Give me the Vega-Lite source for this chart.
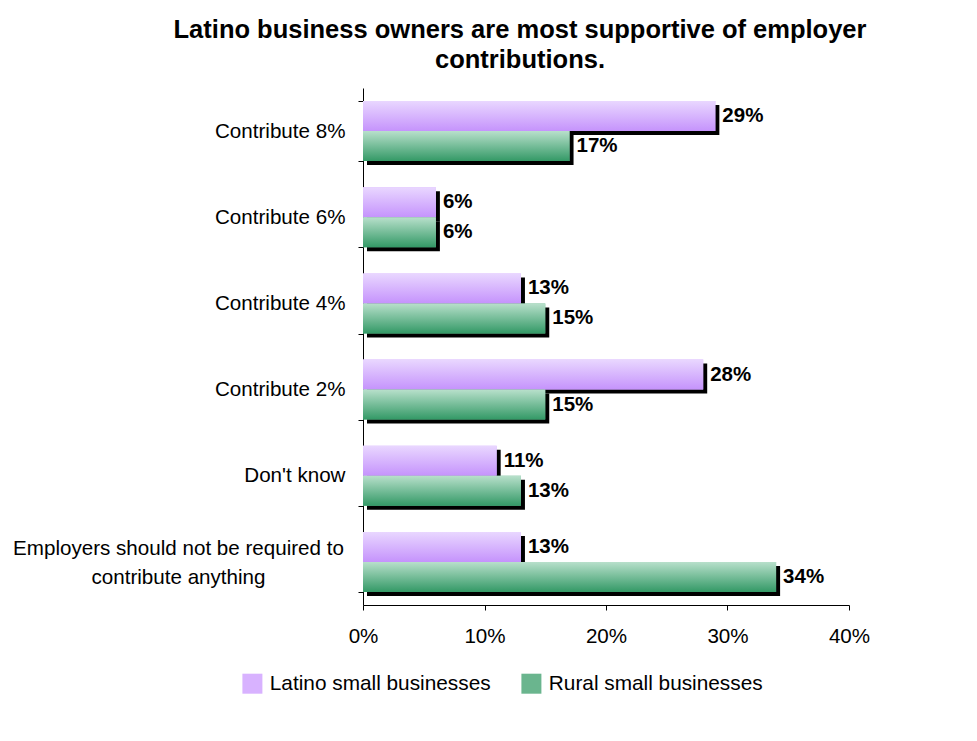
{
  "$schema": "https://vega.github.io/schema/vega-lite/v6.json",
  "width": 486,
  "height": 517,
  "autosize": {"type": "none"},
  "padding": {"left": 363, "top": 88, "right": 128, "bottom": 136},
  "background": "white",
  "config": {
    "font": "Liberation Sans",
    "view": {"stroke": null},
    "axis": {"labelFont": "Liberation Sans", "labelColor": "black", "domainColor": "black", "tickColor": "black", "grid": false, "title": null}
  },
  "title": {
    "text": ["Latino business owners are most supportive of employer", "contributions."],
    "fontSize": 25.5,
    "fontWeight": "bold",
    "font": "Liberation Sans",
    "color": "black",
    "anchor": "middle",
    "dx": -86,
    "lineHeight": 30,
    "offset": 5
  },
  "data": {
    "values": [
      {"cat": "Contribute 8%", "series": "Latino small businesses", "v": 0.29},
      {"cat": "Contribute 8%", "series": "Rural small businesses", "v": 0.17},
      {"cat": "Contribute 6%", "series": "Latino small businesses", "v": 0.06},
      {"cat": "Contribute 6%", "series": "Rural small businesses", "v": 0.06},
      {"cat": "Contribute 4%", "series": "Latino small businesses", "v": 0.13},
      {"cat": "Contribute 4%", "series": "Rural small businesses", "v": 0.15},
      {"cat": "Contribute 2%", "series": "Latino small businesses", "v": 0.28},
      {"cat": "Contribute 2%", "series": "Rural small businesses", "v": 0.15},
      {"cat": "Don't know ", "series": "Latino small businesses", "v": 0.11},
      {"cat": "Don't know ", "series": "Rural small businesses", "v": 0.13},
      {"cat": "Employers should not be required to contribute anything", "series": "Latino small businesses", "v": 0.13},
      {"cat": "Employers should not be required to contribute anything", "series": "Rural small businesses", "v": 0.34}
    ]
  },
  "encoding": {
    "y": {
      "field": "cat",
      "type": "nominal",
      "sort": null,
      "scale": {"paddingInner": 0.3, "paddingOuter": 0.15},
      "axis": {
        "labelFontSize": 20.6,
        "tickSize": 5,
        "tickBand": "extent",
        "labelPadding": {"condition": {"test": "datum.value === 'Employers should not be required to contribute anything'", "value": 180}, "value": 13},
        "labelAlign": {"condition": {"test": "datum.value === 'Employers should not be required to contribute anything'", "value": "center"}, "value": "right"},
        "labelOffset": {"condition": {"test": "datum.value === 'Employers should not be required to contribute anything'", "value": -13}, "value": 0},
        "labelExpr": "datum.value === 'Employers should not be required to contribute anything' ? ['Employers should not be required to', 'contribute anything'] : datum.value",
        "labelLineHeight": 29,
        "labelLimit": 400
      }
    },
    "x": {
      "field": "v",
      "type": "quantitative",
      "scale": {"domain": [0, 0.4]},
      "axis": {"format": ".0%", "values": [0, 0.1, 0.2, 0.3, 0.4], "labelFontSize": 20.6, "tickSize": 5, "labelPadding": 16, "labelFlush": false}
    }
  },
  "layer": [
    {
      "transform": [{"filter": "datum.series === 'Latino small businesses'"}],
      "mark": {"type": "bar", "color": "black", "height": 30, "yOffset": -11, "xOffset": 4, "x2Offset": 4}
    },
    {
      "transform": [{"filter": "datum.series === 'Rural small businesses'"}],
      "mark": {"type": "bar", "color": "black", "height": 30, "yOffset": 19, "xOffset": 4, "x2Offset": 4}
    },
    {
      "transform": [{"filter": "datum.series === 'Latino small businesses'"}],
      "mark": {"type": "bar", "height": 30, "yOffset": -15},
      "encoding": {
        "color": {
          "field": "series",
          "type": "nominal",
          "scale": {"domain": ["Latino small businesses", "Rural small businesses"], "range": ["#d8b2ff", "#6ab58e"]},
          "legend": {
            "title": null,
            "orient": "none",
            "direction": "horizontal",
            "legendX": -121,
            "legendY": 585,
            "symbolType": "square",
            "symbolSize": 400,
            "symbolStrokeWidth": 0,
            "symbolOpacity": 1,
            "labelFontSize": 20.8,
            "labelFont": "Liberation Sans",
            "labelColor": "black",
            "labelOffset": 7,
            "columnPadding": 30,
            "labelLimit": 400
          }
        }
      }
    },
    {
      "transform": [{"filter": "datum.series === 'Rural small businesses'"}],
      "mark": {"type": "bar", "height": 30, "yOffset": 15},
      "encoding": {"color": {"field": "series", "type": "nominal"}}
    },
    {
      "transform": [{"filter": "datum.series === 'Latino small businesses'"}],
      "mark": {"type": "bar", "height": 30, "yOffset": -15, "fill": {"gradient": "linear", "x1": 0, "y1": 0, "x2": 0, "y2": 1, "stops": [{"offset": 0, "color": "#e9d7ff"}, {"offset": 1, "color": "#c593fc"}]}}
    },
    {
      "transform": [{"filter": "datum.series === 'Rural small businesses'"}],
      "mark": {"type": "bar", "height": 30, "yOffset": 15, "fill": {"gradient": "linear", "x1": 0, "y1": 0, "x2": 0, "y2": 1, "stops": [{"offset": 0, "color": "#b8e0cb"}, {"offset": 1, "color": "#339966"}]}}
    },
    {
      "transform": [{"filter": "datum.series === 'Latino small businesses'"}],
      "mark": {"type": "text", "align": "left", "baseline": "middle", "dx": 7, "yOffset": -15, "fontSize": 20.5, "fontWeight": "bold", "color": "black", "font": "Liberation Sans"},
      "encoding": {"text": {"field": "v", "type": "quantitative", "format": ".0%"}}
    },
    {
      "transform": [{"filter": "datum.series === 'Rural small businesses'"}],
      "mark": {"type": "text", "align": "left", "baseline": "middle", "dx": 7, "yOffset": 15, "fontSize": 20.5, "fontWeight": "bold", "color": "black", "font": "Liberation Sans"},
      "encoding": {"text": {"field": "v", "type": "quantitative", "format": ".0%"}}
    }
  ]
}
